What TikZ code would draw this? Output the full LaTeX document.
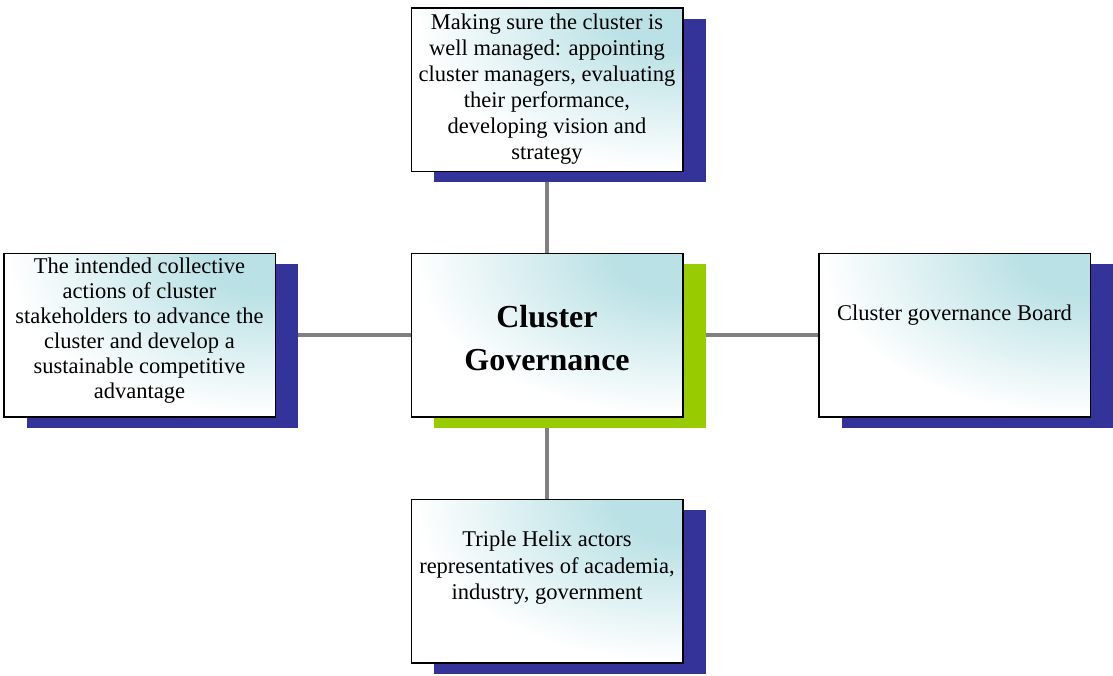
\documentclass[tikz,border=0pt]{standalone}
\usepackage{fontspec}
\setmainfont{Liberation Serif}
\usetikzlibrary{shadows,backgrounds}
\definecolor{tealc}{RGB}{186,225,229}
\definecolor{navyc}{RGB}{51,51,153}
\definecolor{greenc}{RGB}{153,204,0}
\definecolor{linec}{RGB}{128,128,128}
\pgfdeclareradialshading{cornerteal}{\pgfpoint{25bp}{25bp}}{color(0bp)=(tealc); color(12bp)=(tealc); color(47bp)=(white); color(500bp)=(white)}
\begin{document}
\begin{tikzpicture}[x=1pt,y=-1pt,
  box/.style={draw=black, line width=1.5pt, minimum width=271.5pt, minimum height=163.5pt, inner sep=0pt, shade, shading=cornerteal, general shadow={fill=#1, shadow xshift=23pt, shadow yshift=-11pt}},
  box/.default=navyc,
  txt/.style={align=center, inner sep=0pt, font=\fontsize{22.5}{26.5}\selectfont},
  conn/.style={draw=linec, line width=4pt}]
\useasboundingbox (0,0) rectangle (1113,675);
\node[box] (top) at (547,89.5) {};
\node[box=greenc] (mid) at (547,335) {};
\node[box] (left) at (139.5,335) {};
\node[box] (right) at (954.5,335) {};
\node[box] (bot) at (547,581) {};
\begin{pgfonlayer}{background}
\draw[conn] (top) -- (mid);
\draw[conn] (left) -- (mid);
\draw[conn] (mid) -- (right);
\draw[conn] (mid) -- (bot);
\end{pgfonlayer}
\node[txt, font=\fontsize{22.5}{26}\selectfont] (toptext) at (547,89.5) {Making sure the cluster is\\well managed: appointing\\cluster managers, evaluating\\their performance,\\developing vision and\\strategy};
\node[txt, font=\fontsize{22.5}{25}\selectfont] (lefttext) at (139.5,331) {The intended collective\\actions of cluster\\stakeholders to advance the\\cluster and develop a\\sustainable competitive\\advantage};
\node[txt] (righttext) at (954.5,315) {Cluster governance Board};
\node[txt] (bottext) at (547,568) {Triple Helix actors\\representatives of academia,\\industry, government};
\node[txt, font=\bfseries\fontsize{32}{43}\selectfont] (midtext) at (547,338) {Cluster\\Governance};
\end{tikzpicture}
\end{document}
